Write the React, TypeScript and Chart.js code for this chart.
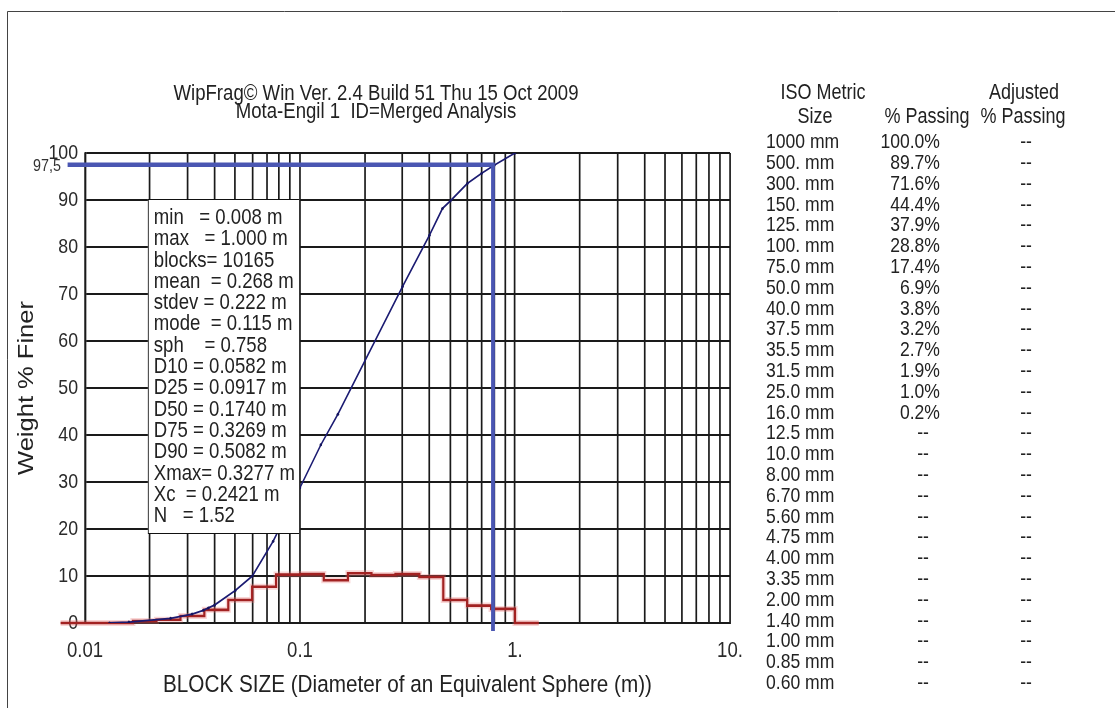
import React, { useEffect, useRef } from 'react';
import { Chart, registerables } from 'chart.js';

Chart.register(...registerables);

const FONT = '"Liberation Sans", Arial, sans-serif';
// horizontal condensing of the whole drawing (the reference text is narrow)
const SX = 0.845;
const L = (px: number) => px / SX; // page px -> logical px
const PAGE_W = 1115;
const PAGE_H = 708;
const LOGICAL_W = Math.ceil(L(PAGE_W));

const TITLE_LINES = ['WipFrag\u00A9 Win Ver. 2.4 Build 51 Thu 15 Oct 2009', 'Mota-Engil 1  ID=Merged Analysis'];
const X_TITLE = 'BLOCK SIZE (Diameter of an Equivalent Sphere (m))';
const Y_TITLE = 'Weight % Finer';

const X_TICKS = [
  0.01, 0.02, 0.03, 0.04, 0.05, 0.06, 0.07, 0.08, 0.09,
  0.1, 0.2, 0.3, 0.4, 0.5, 0.6, 0.7, 0.8, 0.9,
  1, 2, 3, 4, 5, 6, 7, 8, 9, 10,
];
const X_TICK_LABELS: Record<string, string> = { '0.01': '0.01', '0.1': '0.1', '1': '1.', '10': '10.' };
const Y_TICKS = [0, 10, 20, 30, 40, 50, 60, 70, 80, 90, 100];

// cumulative % passing curve
const CURVE_SIZE = [0.013, 0.016, 0.025, 0.0315, 0.0355, 0.0375, 0.04, 0.05, 0.06, 0.075, 0.1, 0.125, 0.15, 0.3, 0.4, 0.46, 0.5, 0.6, 0.7, 0.8, 1.0];
const CURVE_PASS = [0, 0.2, 1.0, 1.9, 2.7, 3.2, 3.8, 6.9, 10.0, 17.4, 28.8, 37.9, 44.4, 71.6, 82.5, 88.2, 89.8, 93.5, 95.7, 97.4, 100];

// histogram (stepped) – bin left edges and % retained in each bin
const HIST_EDGE = [0.0077, 0.0167, 0.0215, 0.0278, 0.0359, 0.0464, 0.0599, 0.0774, 0.1, 0.129, 0.167, 0.215, 0.278, 0.359, 0.464, 0.599, 0.774, 1.0, 1.29];
const HIST_PCT = [0, 0.4, 0.7, 1.5, 2.8, 4.9, 7.7, 10.3, 10.4, 9.1, 10.6, 10.2, 10.4, 9.8, 4.9, 3.7, 3.0, 0, 0];

// 97.5 % passing marker
const MARK_SIZE = [0.0083, 0.79, 0.79];
const MARK_PASS = [97.5, 97.5, -1.7];
const MARK_LABEL = '97,5';

const STATS = [
  'min   = 0.008 m',
  'max   = 1.000 m',
  'blocks= 10165',
  'mean  = 0.268 m',
  'stdev = 0.222 m',
  'mode  = 0.115 m',
  'sph    = 0.758',
  'D10 = 0.0582 m',
  'D25 = 0.0917 m',
  'D50 = 0.1740 m',
  'D75 = 0.3269 m',
  'D90 = 0.5082 m',
  'Xmax= 0.3277 m',
  'Xc  = 0.2421 m',
  'N   = 1.52',
];

const TABLE_HEAD_1 = ['ISO Metric', 'Adjusted'];
const TABLE_HEAD_2 = ['Size', '% Passing', '% Passing'];
const TABLE_SIZES = [
  '1000 mm', '500. mm', '300. mm', '150. mm', '125. mm', '100. mm', '75.0 mm', '50.0 mm', '40.0 mm',
  '37.5 mm', '35.5 mm', '31.5 mm', '25.0 mm', '16.0 mm', '12.5 mm', '10.0 mm', '8.00 mm', '6.70 mm',
  '5.60 mm', '4.75 mm', '4.00 mm', '3.35 mm', '2.00 mm', '1.40 mm', '1.00 mm', '0.85 mm', '0.60 mm',
];
const TABLE_PASSING = [
  '100.0%', '89.7%', '71.6%', '44.4%', '37.9%', '28.8%', '17.4%', '6.9%', '3.8%',
  '3.2%', '2.7%', '1.9%', '1.0%', '0.2%', '--', '--', '--', '--',
  '--', '--', '--', '--', '--', '--', '--', '--', '--',
];
const TABLE_ADJUSTED = TABLE_SIZES.map(() => '--');

type Align = 'left' | 'center' | 'right';
// x given in page pixels, converted to the condensed logical space
function Txt(props: { x: number; y: number; size: number; align?: Align; children: React.ReactNode }) {
  const { x, y, size, align = 'left', children } = props;
  const w = 500;
  const lx = L(x);
  let left = lx;
  if (align === 'center') left = lx - w / 2;
  if (align === 'right') left = lx - w;
  return (
    <div
      style={{
        position: 'absolute',
        left,
        top: y - size / 2,
        width: align === 'left' ? undefined : w,
        textAlign: align,
        fontFamily: FONT,
        fontSize: size,
        lineHeight: `${size}px`,
        whiteSpace: 'pre',
        color: '#222',
      }}
    >
      {children}
    </div>
  );
}

export default function App() {
  const ref = useRef<HTMLCanvasElement | null>(null);

  useEffect(() => {
    const canvas = ref.current;
    if (!canvas) return;

    const condense = {
      id: 'condense',
      beforeDraw(chart: any) {
        chart.ctx.save();
        chart.ctx.scale(SX, 1);
      },
      afterDraw(chart: any) {
        const ctx = chart.ctx;
        const ys = chart.scales.y;
        ctx.save();
        ctx.strokeStyle = '#333';
        ctx.lineWidth = 1;
        ctx.beginPath();
        ctx.moveTo(L(7.5), PAGE_H);
        ctx.lineTo(L(7.5), 11.5);
        ctx.lineTo(LOGICAL_W, 11.5);
        ctx.stroke();
        ctx.fillStyle = '#333';
        ctx.font = `17px ${FONT}`;
        ctx.textAlign = 'right';
        ctx.textBaseline = 'middle';
        ctx.fillText(MARK_LABEL, L(61), ys.getPixelForValue(97.5) + 2);
        ctx.restore();
        ctx.restore();
      },
    };

    const hist = HIST_EDGE.map((x, i) => ({ x, y: HIST_PCT[i] }));

    const chart = new Chart(canvas, {
      type: 'line',
      data: {
        datasets: [
          {
            label: 'D97.5',
            data: MARK_SIZE.map((x, i) => ({ x, y: MARK_PASS[i] })),
            borderColor: '#4a56b2',
            borderWidth: 4.5,
            pointRadius: 0,
            clip: false as any,
          },
          {
            label: '% Passing',
            data: CURVE_SIZE.map((x, i) => ({ x, y: CURVE_PASS[i] })),
            borderColor: '#1b1b72',
            borderWidth: 1.8,
            pointRadius: 1.5,
            pointBorderWidth: 0,
            pointBackgroundColor: '#14145e',
          },
          {
            label: 'Histogram',
            data: hist,
            stepped: 'before',
            borderColor: '#a22222',
            borderWidth: 2.6,
            pointRadius: 0,
            clip: false as any,
          },
          {
            label: 'glow',
            data: hist,
            stepped: 'before',
            borderColor: 'rgba(235,120,120,0.3)',
            borderWidth: 6,
            pointRadius: 0,
            clip: false as any,
          },
        ],
      },
      options: {
        animation: false,
        responsive: false,
        maintainAspectRatio: false,
        events: [],
        layout: { padding: { top: 153, right: LOGICAL_W - L(730), bottom: 0, left: 0 } },
        plugins: {
          legend: { display: false },
          tooltip: { enabled: false },
          title: { display: false },
        },
        scales: {
          x: {
            type: 'logarithmic',
            min: 0.01,
            max: 10,
            afterBuildTicks: (s: any) => {
              s.ticks = X_TICKS.map((v) => ({ value: v }));
            },
            afterFit: (s: any) => {
              s.height = 85;
            },
            ticks: {
              autoSkip: false,
              maxRotation: 0,
              padding: 15,
              color: '#2a2a2a',
              font: { family: FONT, size: 22 },
              callback: (v: any) => X_TICK_LABELS[String(v)] ?? '',
            },
            grid: { color: '#1a1a1a', lineWidth: 2, drawTicks: false },
            border: { display: true, color: '#1a1a1a', width: 2 },
            title: {
              display: true,
              text: X_TITLE,
              color: '#222',
              font: { family: FONT, size: 24.5 },
              padding: { top: 0, bottom: 8 },
            },
          },
          y: {
            type: 'linear',
            min: 0,
            max: 100,
            afterBuildTicks: (s: any) => {
              s.ticks = Y_TICKS.map((v) => ({ value: v }));
            },
            afterFit: (s: any) => {
              s.width = L(85);
            },
            ticks: {
              autoSkip: false,
              padding: L(7),
              color: '#2a2a2a',
              font: { family: FONT, size: 21 },
            },
            grid: { color: '#1a1a1a', lineWidth: 2, drawTicks: false },
            border: { display: true, color: '#1a1a1a', width: 2 },
            title: {
              display: true,
              text: Y_TITLE,
              color: '#222',
              font: { family: FONT, size: 25.5 },
              padding: { top: L(27) - 15.3, bottom: 0 },
            },
          },
        },
      } as any,
      plugins: [condense],
    });

    return () => chart.destroy();
  }, []);

  const rowY0 = 141.5;
  const rowDy = 20.8;
  const fs = 20.8;

  return (
    <div style={{ position: 'absolute', left: 0, top: 0, width: PAGE_W, height: PAGE_H, background: '#fff', overflow: 'hidden' }}>
      <canvas
        ref={ref}
        width={LOGICAL_W}
        height={PAGE_H}
        style={{ position: 'absolute', left: 0, top: 0, width: LOGICAL_W, height: PAGE_H }}
      />
      <div
        style={{
          position: 'absolute',
          left: 0,
          top: 0,
          width: LOGICAL_W,
          height: PAGE_H,
          transform: `scaleX(${SX})`,
          transformOrigin: '0 0',
        }}
      >
        <Txt x={376} y={92.5} size={22} align="center">{TITLE_LINES[0]}</Txt>
        <Txt x={376} y={110.5} size={22} align="center">{TITLE_LINES[1]}</Txt>

        <div
          style={{
            position: 'absolute',
            left: L(148),
            top: 199,
            width: L(152),
            height: 335,
            boxSizing: 'border-box',
            borderTop: '1.5px solid #111',
            borderBottom: '1.5px solid #111',
            borderLeft: `${L(1.5)}px solid #111`,
            borderRight: `${L(1.5)}px solid #111`,
            background: '#fff',
            paddingLeft: L(5),
            paddingTop: 6,
            fontFamily: FONT,
            fontSize: 22,
            lineHeight: '21.3px',
            whiteSpace: 'pre',
            color: '#222',
          }}
        >
          {STATS.map((s, i) => (
            <div key={i}>{s}</div>
          ))}
        </div>

        <Txt x={823} y={92.5} size={21.3} align="center">{TABLE_HEAD_1[0]}</Txt>
        <Txt x={1024} y={92.5} size={21.3} align="center">{TABLE_HEAD_1[1]}</Txt>
        <Txt x={815} y={117} size={21.3} align="center">{TABLE_HEAD_2[0]}</Txt>
        <Txt x={927} y={117} size={21.3} align="center">{TABLE_HEAD_2[1]}</Txt>
        <Txt x={1023} y={117} size={21.3} align="center">{TABLE_HEAD_2[2]}</Txt>

        {TABLE_SIZES.map((s, i) => (
          <Txt key={'s' + i} x={766} y={rowY0 + i * rowDy} size={fs} align="left">{s}</Txt>
        ))}
        {TABLE_PASSING.map((s, i) =>
          s === '--' ? (
            <Txt key={'p' + i} x={923} y={rowY0 + i * rowDy} size={fs} align="center">{s}</Txt>
          ) : (
            <Txt key={'p' + i} x={940} y={rowY0 + i * rowDy} size={fs} align="right">{s}</Txt>
          )
        )}
        {TABLE_ADJUSTED.map((s, i) => (
          <Txt key={'a' + i} x={1026} y={rowY0 + i * rowDy} size={fs} align="center">{s}</Txt>
        ))}
      </div>
    </div>
  );
}
